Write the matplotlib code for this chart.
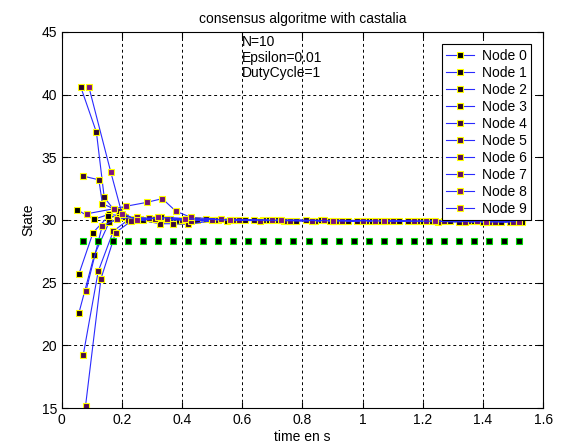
import matplotlib
matplotlib.use("Agg")
import matplotlib.pyplot as plt

plt.rcParams['font.family'] = ['Liberation Sans', 'DejaVu Sans']

# state of each node over time
t0 = [0.052, 0.106, 0.157, 0.205, 0.26, 0.36, 0.52, 0.69, 0.86, 1.03, 1.2, 1.37, 1.52]
v0 = [30.8, 30.05, 30.45, 30.3, 30.1, 30.05, 30.0, 29.98, 29.97, 29.95, 29.92, 29.9, 29.88]
t1 = [0.057, 0.104, 0.155, 0.20, 0.27, 0.39, 0.55, 0.72, 0.89, 1.06, 1.23, 1.40, 1.53]
v1 = [25.7, 29.0, 30.3, 30.2, 30.0, 29.9, 29.95, 29.97, 29.95, 29.9, 29.88, 29.86, 29.85]
t2 = [0.057, 0.108, 0.157, 0.21, 0.30, 0.45, 0.61, 0.78, 0.95, 1.12, 1.29, 1.46]
v2 = [22.6, 27.2, 29.8, 30.2, 30.1, 30.0, 29.98, 29.95, 29.93, 29.9, 29.88, 29.85]
t3 = [0.063, 0.115, 0.141, 0.19, 0.24, 0.33, 0.48, 0.64, 0.81, 0.98, 1.15, 1.32, 1.49]
v3 = [40.6, 37.0, 31.8, 30.3, 30.0, 30.2, 30.05, 30.0, 29.97, 29.94, 29.9, 29.87, 29.85]
t4 = [0.071, 0.123, 0.135, 0.19, 0.24, 0.326, 0.37, 0.42, 0.515, 0.67, 0.84, 1.01, 1.18, 1.35, 1.51]
v4 = [33.5, 33.2, 31.3, 30.7, 30.1, 29.7, 29.7, 29.65, 30.0, 29.97, 29.95, 29.92, 29.9, 29.88, 29.85]
t5 = [0.071, 0.121, 0.171, 0.22, 0.29, 0.40, 0.57, 0.74, 0.91, 1.08, 1.25, 1.42]
v5 = [19.2, 25.9, 29.1, 30.0, 30.15, 30.0, 29.97, 29.95, 29.92, 29.9, 29.87, 29.85]
t6 = [0.079, 0.130, 0.179, 0.23, 0.31, 0.43, 0.59, 0.76, 0.93, 1.10, 1.27, 1.44]
v6 = [15.2, 25.3, 29.0, 29.9, 30.1, 29.95, 29.98, 29.95, 29.92, 29.9, 29.88, 29.84]
t7 = [0.080, 0.134, 0.185, 0.25, 0.35, 0.50, 0.66, 0.83, 1.0, 1.17, 1.34, 1.5]
v7 = [24.3, 29.5, 30.1, 30.2, 30.05, 29.98, 29.95, 29.93, 29.92, 29.9, 29.86, 29.84]
t8 = [0.085, 0.174, 0.215, 0.282, 0.334, 0.379, 0.43, 0.53, 0.70, 0.87, 1.04, 1.21, 1.38, 1.52]
v8 = [30.5, 30.9, 31.1, 31.4, 31.7, 30.7, 30.2, 30.05, 30.0, 29.97, 29.95, 29.9, 29.88, 29.86]
t9 = [0.090, 0.163, 0.20, 0.25, 0.32, 0.41, 0.56, 0.73, 0.90, 1.07, 1.24, 1.41]
v9 = [40.6, 33.8, 30.5, 30.0, 30.2, 30.1, 30.0, 29.97, 29.94, 29.92, 29.9, 29.86]

times = [t0, t1, t2, t3, t4, t5, t6, t7, t8, t9]
values = [v0, v1, v2, v3, v4, v5, v6, v7, v8, v9]
labels = ['Node 0', 'Node 1', 'Node 2', 'Node 3', 'Node 4',
          'Node 5', 'Node 6', 'Node 7', 'Node 8', 'Node 9']
face = ['#000000', '#0e020e', '#1c041c', '#2a062a', '#38083a',
        '#460a48', '#540c56', '#620e64', '#701072', '#7e1280']

# average of the initial states
avg_t = [0.07, 0.12, 0.17, 0.22, 0.27, 0.32, 0.37, 0.42, 0.47, 0.52,
         0.57, 0.62, 0.67, 0.72, 0.77, 0.82, 0.87, 0.92, 0.97, 1.02,
         1.07, 1.12, 1.17, 1.22, 1.27, 1.32, 1.37, 1.42, 1.47, 1.52]
avg_v = [28.33] * 30

fig = plt.figure(figsize=(5.67, 4.48), dpi=100)
ax = fig.add_axes([0.109, 0.089, 0.849, 0.84])

for t, v, lab, fc in zip(times, values, labels, face):
    ax.plot(t, v, '-s', color='#2a2aff', lw=0.8, ms=4, mfc=fc, mec='#ffff00', mew=0.8, label=lab)

ax.plot(avg_t, avg_v, 's', ls='none', ms=4, mfc='black', mec='#00dd00', mew=0.8)

ax.set_xlim(0, 1.6)
ax.set_ylim(15, 45)
ax.set_xticks([0, 0.2, 0.4, 0.6, 0.8, 1, 1.2, 1.4, 1.6])
ax.set_xticklabels(['0', '0.2', '0.4', '0.6', '0.8', '1', '1.2', '1.4', '1.6'])
ax.set_yticks([15, 20, 25, 30, 35, 40, 45])
ax.grid(True, color='black', linestyle=(0, (3, 3)), linewidth=0.7)
ax.tick_params(direction='in', top=True, right=True, length=4, labelsize=10)
for s in ax.spines.values():
    s.set_linewidth(0.8)

ax.set_title('consensus algoritme with castalia', fontsize=10)
ax.set_xlabel('time en s', fontsize=10, labelpad=2)
ax.set_ylabel('State', fontsize=10)

ax.text(0.6, 44.75, 'N=10\nEpsilon=0.01\nDutyCycle=1', fontsize=10, va='top', ha='left', linespacing=1.15)

leg = ax.legend(loc='upper right', fontsize=10, labelspacing=0.22, handlelength=2.0,
                handletextpad=0.6, borderpad=0.3, fancybox=False, framealpha=1,
                edgecolor='black', bbox_to_anchor=(0.99, 0.985))
leg.get_frame().set_linewidth(0.8)

fig.savefig('out.png', dpi=100)
